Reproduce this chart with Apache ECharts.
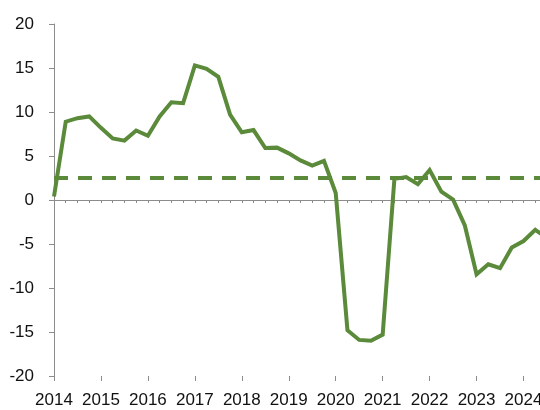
<!DOCTYPE html>
<html>
<head>
<meta charset="utf-8">
<script src="https://cdn.jsdelivr.net/npm/echarts@6/dist/echarts.min.js"></script>
<style>
html,body{margin:0;padding:0;background:#fff;}
#c{width:540px;height:410px;}
</style>
</head>
<body>
<div id="c"></div>
<script>
// Quarterly categories 2014Q1 .. 2024Q3
var quarters = [];
for (var y = 2014; y <= 2024; y++) {
  for (var q = 1; q <= 4; q++) {
    if (y === 2024 && q === 4) break;
    quarters.push(y + 'Q' + q);
  }
}
var values = [
  0.4, 8.9, 9.3, 9.5,
  8.2, 7.0, 6.75, 7.9,
  7.3, 9.5, 11.1, 11.0,
  15.3, 14.9, 14.0, 9.7,
  7.7, 7.95, 5.9, 5.95,
  5.3, 4.5, 3.9, 4.45,
  0.8, -14.8, -15.9, -16.0,
  -15.3, 2.4, 2.6, 1.8,
  3.4, 0.95, 0.05, -2.9,
  -8.45, -7.3, -7.75, -5.4,
  -4.66, -3.4, -4.3
];
var targetLevel = 2.5;
var yMin = -20, yMax = 20, yStep = 5;

var green = '#5a8a3a';
var axisGrey = '#8c8c8c';
var font = 'Liberation Sans, Arial, sans-serif';

var chart = echarts.init(document.getElementById('c'), null, {renderer: 'canvas'});
chart.setOption({
  animation: false,
  backgroundColor: '#fff',
  grid: {left: 54, top: 24, height: 352, width: 493, containLabel: false, outerBoundsMode: 'none'},
  xAxis: [
    {
      type: 'category', data: quarters, boundaryGap: false, position: 'bottom',
      axisLine: {show: true, onZero: true, lineStyle: {color: axisGrey, width: 1}},
      axisTick: {show: true, interval: 0, length: 3, lineStyle: {color: axisGrey}},
      axisLabel: {show: false}, splitLine: {show: false}
    },
    {
      type: 'category', data: quarters, boundaryGap: false, position: 'bottom',
      axisLine: {show: false, onZero: true},
      axisTick: {show: true, interval: 3, length: 5, lineStyle: {color: axisGrey}},
      axisLabel: {show: false}, splitLine: {show: false}
    },
    {
      type: 'category', data: quarters, boundaryGap: false, position: 'bottom',
      axisLine: {show: false, onZero: false},
      axisTick: {show: false},
      axisLabel: {
        show: true, interval: 3, margin: 16, color: '#111', fontSize: 17, fontFamily: font,
        hideOverlap: false, formatter: function (v) { return v.slice(0, 4); }
      },
      splitLine: {show: false}
    }
  ],
  yAxis: {
    type: 'value', min: yMin, max: yMax, interval: yStep,
    axisLine: {show: true, lineStyle: {color: axisGrey, width: 1}},
    axisTick: {show: true, length: 5, lineStyle: {color: axisGrey}},
    axisLabel: {margin: 20, color: '#111', fontSize: 17, fontFamily: font},
    splitLine: {show: false}
  },
  series: [
    {
      type: 'line', data: values, xAxisIndex: 0, symbol: 'none', smooth: false,
      lineStyle: {color: green, width: 4, join: 'miter'},
      z: 3,
      markLine: {
        silent: true, symbol: 'none', label: {show: false},
        lineStyle: {color: green, width: 4, type: [14, 10]},
        data: [{yAxis: targetLevel}]
      }
    }
  ]
});
</script>
</body>
</html>
